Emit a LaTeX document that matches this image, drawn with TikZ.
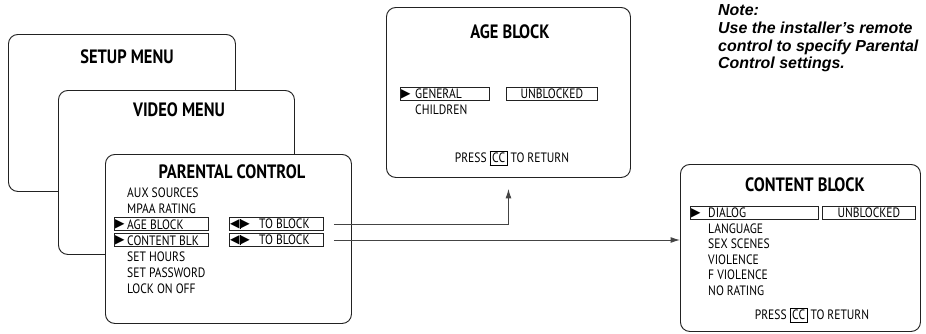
\documentclass[tikz,border=0pt]{standalone}
\usepackage{fontspec}
\usetikzlibrary{arrows.meta,positioning}
\setmainfont{Liberation Sans}
\newfontfamily\menufont[FakeStretch=0.85]{PT Sans}
\newfontfamily\symfont{DejaVu Sans}
\definecolor{lineGray}{HTML}{444444}
\definecolor{boxBlack}{HTML}{222222}

\begin{document}
\begin{tikzpicture}[x=0.03cm,y=-0.03cm,
            screen/.style={draw=boxBlack,line width=0.8pt,rounded corners=8pt,fill=white,anchor=north west},
            title/.style={font=\menufont\bfseries\fontsize{16.5}{19}\selectfont},
            item/.style={font=\menufont\fontsize{11.6}{13}\selectfont,anchor=west,inner sep=0pt},
            selbox/.style={draw=boxBlack,line width=0.7pt,anchor=west,minimum height=0.37cm,inner sep=0pt,
                           font=\menufont\fontsize{11.6}{13}\selectfont},
            pointer/.style={font=\symfont\fontsize{10.5}{10.5}\selectfont,anchor=west,inner sep=0pt,xshift=0.8pt},
            arrow/.style={-{Latex[length=8pt,width=5pt]},line width=0.8pt,draw=lineGray,shorten <=0.3cm}]
    \useasboundingbox (0,0) rectangle (926,333);
    % stacked menus
    \node[screen,minimum width=6.81cm,minimum height=4.71cm] (setup) at (8,34) {};
    \node[title] (setupT) at (127,57) {SETUP MENU};
    \node[screen,minimum width=7.08cm,minimum height=4.92cm] (video) at (58,90) {};
    \node[title] (videoT) at (179,110) {VIDEO MENU};
    \node[screen,minimum width=7.38cm,minimum height=5.07cm] (parental) at (105,154) {};
    \node[title] (parentalT) at (232,172) {PARENTAL CONTROL};
    \node[selbox,minimum width=2.82cm] (agesel) at (114,224) {};
    \node[selbox,minimum width=2.82cm] (contsel) at (114,240) {};
    \node[selbox,minimum width=2.82cm] (tob1) at (229,224) {};
    \node[selbox,minimum width=2.82cm] (tob2) at (229,240) {};
    \foreach \txt [count=\i] in {AUX SOURCES,MPAA RATING,AGE BLOCK,CONTENT BLK,SET HOURS,SET PASSWORD,LOCK ON OFF}
        \node[item] (pc\i) at (127,{193+16*(\i-1)}) {\txt};
    \node[pointer] at (agesel.west) {▶};
    \node[pointer] at (contsel.west) {▶};
    \foreach \b in {tob1,tob2} {
        \node[pointer] at (\b.west) {◀\rule[-1.5pt]{0.7pt}{9pt}▶};
        \node[item] at ([xshift=0.9cm]\b.west) {TO BLOCK};
    }
    % age block screen
    \node[screen,minimum width=7.32cm,minimum height=5.1cm] (age) at (386,7) {};
    \node[title] (ageT) at (510,32) {AGE BLOCK};
    \node[selbox,minimum width=2.67cm] (gensel) at (400,94) {};
    \node[pointer] at (gensel.west) {▶};
    \node[selbox,minimum width=2.73cm] (unb1) at (506,94) {UNBLOCKED};
    \node[item] (gen) at (415,94) {GENERAL};
    \node[item] (chi) at (415,110) {CHILDREN};
    \node[item,anchor=center] (ret1) at (512,158) {PRESS \setlength{\fboxsep}{1.5pt}\setlength{\fboxrule}{0.6pt}\fbox{CC} TO RETURN};
    % content block screen
    \node[screen,minimum width=7.2cm,minimum height=5.01cm] (content) at (680,164) {};
    \node[title] (contentT) at (805,185) {CONTENT BLOCK};
    \node[selbox,minimum width=3.84cm] (dialsel) at (690,213) {};
    \node[pointer] at (dialsel.west) {▶};
    \node[selbox,minimum width=2.79cm] (unb2) at (822,213) {UNBLOCKED};
    \foreach \txt [count=\i] in {DIALOG,LANGUAGE,SEX SCENES,VIOLENCE,F VIOLENCE,NO RATING}
        \node[item] (cb\i) at (708,{213+15.5*(\i-1)}) {\txt};
    \node[item,anchor=center] (ret2) at (812,315) {PRESS \setlength{\fboxsep}{1.5pt}\setlength{\fboxrule}{0.6pt}\fbox{CC} TO RETURN};
    % note
    \node[anchor=north west,align=left,inner sep=0pt,font=\bfseries\itshape\fontsize{13.6}{15.3}\selectfont] (note) at (718,4)
        {Note:\\Use the installer’s remote\\control to specify Parental\\Control settings.};
    % connectors
    \draw[arrow,shorten >=0.33cm] (tob1.east) -| (age.south);
    \coordinate (cin) at (tob2.east -| content.west);
    \draw[arrow] (tob2.east) -- (cin);
\end{tikzpicture}
\end{document}
